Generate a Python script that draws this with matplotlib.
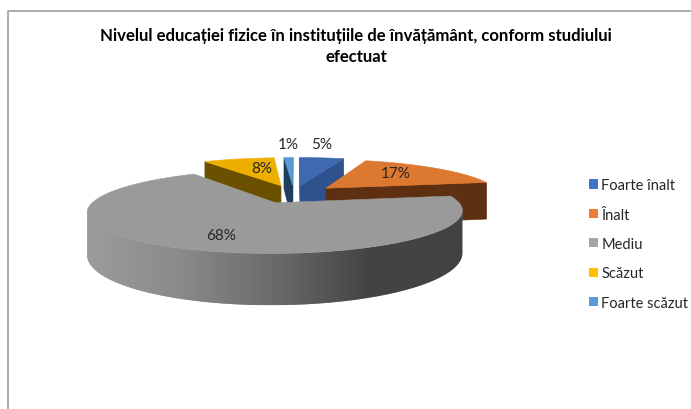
import numpy as np
import matplotlib
matplotlib.use("Agg")
import matplotlib.pyplot as plt
from matplotlib.patches import Patch, Polygon
from matplotlib.colors import LinearSegmentedColormap

categories = ["Foarte înalt", "Înalt", "Mediu", "Scăzut", "Foarte scăzut"]
values = [5, 17, 68, 8, 1]
top_colors = ["#3f6ab0", "#dd7830", "#9a9a9a", "#eeb000", "#5b9bd5"]
side_colors = ["#2f528f", "#5f2f12", "#9a9a9a", "#6b5000", "#1f3f5c"]
legend_colors = ["#4472c4", "#ed7d31", "#a5a5a5", "#ffc000", "#5b9bd5"]
title = "Nivelul educației fizice în instituțiile de învățământ, conform studiului\nefectuat"

# pie geometry, in pixels
cx, cy = 294, 195
rx, ry = 175, 36.5
depth = 39
explode = 0.25
persp = 0.2

# data label centres, in pixels
label_xy = [(322, 145), (396, 174), (221, 236), (262, 169), (288, 145)]

plt.rcParams["font.family"] = ["Lato", "DejaVu Sans"]

fig = plt.figure(figsize=(6.91, 4.10), dpi=100)
ax = fig.add_axes([0, 0, 1, 1])
ax.set_xlim(0, 691)
ax.set_ylim(410, 0)
ax.axis("off")


def project(x, d):
    s = 1 / (1 + persp * d)
    return cx + rx * x * s, cy - ry * d * s


def wall_drop(d):
    return depth / (1 + persp * d)


def slice_points(start, end, mid):
    ox, od = explode * np.sin(mid), explode * np.cos(mid)
    th = np.linspace(start, end, 80)
    ax_x, ax_y = project(ox, od)
    px, py = project(ox + np.sin(th), od + np.cos(th))
    drop = wall_drop(od + np.cos(th))
    return (ax_x, ax_y), np.column_stack([px, py]), drop, wall_drop(od)


def faces_viewer(a, p, inner):
    # a face hangs below its top edge, so it shows when the slice lies on the other side
    ex, ey = p[0] - a[0], p[1] - a[1]
    c_inner = ex * (inner[1] - a[1]) - ey * (inner[0] - a[0])
    return c_inner * ex < 0


fractions = np.array(values) / sum(values) * 2 * np.pi
edges = np.concatenate([[0], np.cumsum(fractions)])
mids = (edges[:-1] + edges[1:]) / 2

wall_cmap = LinearSegmentedColormap.from_list("wall", ["#9c9c9c", "#8a8a8a", "#6a6a6a", "#444444", "#424242"])

# back slices first, the big grey one in front
draw_order = [4, 3, 0, 1, 2]
for z, i in enumerate(draw_order, start=2):
    apex, arc, drop, apex_drop = slice_points(edges[i], edges[i + 1], mids[i])
    inner = arc[len(arc) // 2]
    for p, d in [(arc[0], drop[0]), (arc[-1], drop[-1])]:
        if faces_viewer(apex, p, inner):
            quad = [apex, p, (p[0], p[1] + d), (apex[0], apex[1] + apex_drop)]
            ax.add_patch(Polygon(quad, fc=side_colors[i], ec=side_colors[i], lw=0.5, zorder=z))

    # outer wall: only the stretch of rim that turns towards the front
    seen = np.gradient(arc[:, 0]) < 0
    if seen.any():
        rim = arc[seen]
        low = rim + np.column_stack([np.zeros(len(rim)), drop[seen]])
        wall = Polygon(np.vstack([rim, low[::-1]]), fc=side_colors[i], ec="none", zorder=z)
        ax.add_patch(wall)
        if i == 2:
            grad = np.linspace(0, 1, 256)[None, :]
            im = ax.imshow(grad, cmap=wall_cmap, aspect="auto", origin="lower",
                           extent=[rim[:, 0].min(), rim[:, 0].max(), low[:, 1].max(), rim[:, 1].min()],
                           zorder=z)
            im.set_clip_path(wall)
            ax.set_xlim(0, 691)
            ax.set_ylim(410, 0)

    ax.add_patch(Polygon(np.vstack([[apex], arc]), fc=top_colors[i], ec=top_colors[i], lw=0.4, zorder=z))
    ax.text(label_xy[i][0], label_xy[i][1], f"{values[i]}%", ha="center", va="center", fontsize=11,
            color="#262626", zorder=20)

# chart frame, open to the right and bottom
ax.plot([8.5, 8.5, 691], [410, 11.5, 11.5], color="#a0a0a0", lw=1.2, zorder=1)

ax.text(356, 46.5, title, ha="center", va="center", fontsize=12.1, fontweight="bold",
        color="black", linespacing=1.4)

handles = [Patch(fc=c, ec="none") for c in legend_colors]
ax.legend(handles, categories, loc="center left", bbox_to_anchor=(589 / 691, 1 - 245 / 410), frameon=False,
          fontsize=10.5, handlelength=0.6, handleheight=0.6, handletextpad=0.25, labelspacing=1.06,
          borderpad=0, borderaxespad=0, labelcolor="#262626")

fig.savefig("out.png", dpi=100)
